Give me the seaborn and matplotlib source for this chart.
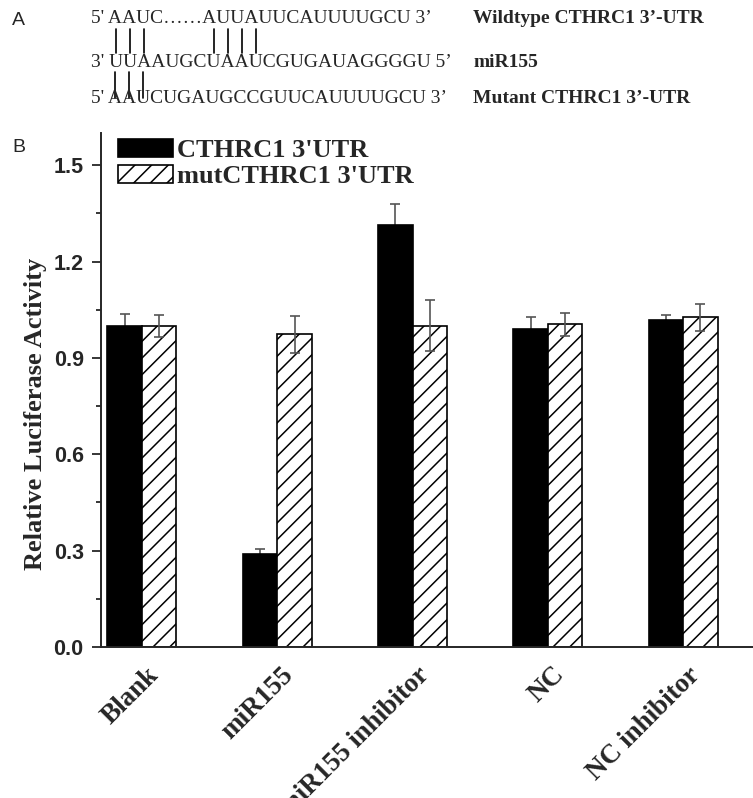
import numpy as np
import pandas as pd
import matplotlib.pyplot as plt
import matplotlib.transforms as mtransforms
import seaborn as sns
from matplotlib.lines import Line2D
from matplotlib.ticker import MultipleLocator

groups = ['Blank', 'miR155', 'miR155 inhibitor', 'NC', 'NC inhibitor']
constructs = ["CTHRC1 3'UTR", "mutCTHRC1 3'UTR"]
wt_mean = [1.00, 0.29, 1.313, 0.99, 1.019]
wt_err = [0.036, 0.015, 0.066, 0.038, 0.015]
mut_mean = [1.00, 0.973, 1.00, 1.004, 1.026]
mut_err = [0.035, 0.058, 0.08, 0.035, 0.041]

seq_lines = ["5' AAUC\u2026\u2026AUUAUUCAUUUUGCU 3\u2019",
             "3' UUAAUGCUAAUCGUGAUAGGGGU 5\u2019",
             "5' AAUCUGAUGCCGUUCAUUUUGCU 3\u2019"]
seq_names = ["Wildtype CTHRC1 3\u2019-UTR", "miR155", "Mutant CTHRC1 3\u2019-UTR"]

sns.set_style('ticks')
plt.rcParams['font.family'] = ['Liberation Serif', 'DejaVu Serif']
plt.rcParams['hatch.linewidth'] = 1.1

W, H = 753, 798
fig = plt.figure(figsize=(W / 100, H / 100), dpi=100)

# panel B
ax = fig.add_axes([101 / W, 1 - 647 / H, (W - 101) / W, (647 - 133) / H])

df = pd.DataFrame({
    'group': groups * 2,
    'construct': [constructs[0]] * 5 + [constructs[1]] * 5,
    'value': wt_mean + mut_mean,
})
sns.barplot(data=df, x='group', y='value', hue='construct', order=groups,
            hue_order=constructs, palette=['black', 'white'], width=0.51,
            edgecolor='black', linewidth=1.2, errorbar=None, ax=ax, zorder=2)
ax.get_legend().remove()

for p in ax.containers[1]:
    p.set_hatch('//')

# error bars: the solid bars hide their lower half
for cont, err, z in [(ax.containers[0], wt_err, 1.5), (ax.containers[1], mut_err, 3)]:
    xs = [p.get_x() + p.get_width() / 2 for p in cont]
    ys = [p.get_height() for p in cont]
    ax.errorbar(xs, ys, yerr=err, fmt='none', ecolor='#555555', elinewidth=1.2,
                capsize=3.8, capthick=1.2, zorder=z)

ax.set_xlim(-0.303, 4.516)
ax.set_ylim(0, 1.6)
ax.yaxis.set_minor_locator(MultipleLocator(0.15))
ax.set_yticks([0.0, 0.3, 0.6, 0.9, 1.2, 1.5])
ax.set_yticklabels(['0.0', '0.3', '0.6', '0.9', '1.2', '1.5'],
                   family='Liberation Sans', fontweight='bold', fontsize=15.5)
ax.tick_params(axis='y', which='major', direction='out', length=6.5, width=1.3, pad=6)
ax.tick_params(axis='y', which='minor', direction='out', length=3.5, width=1.3)
ax.tick_params(axis='x', length=0, pad=11)
ax.set_xticks(range(len(groups)))
ax.set_xticklabels(groups, rotation=45, ha='right', va='top', rotation_mode='anchor',
                   fontweight='bold', fontsize=19.5)
off = mtransforms.ScaledTranslation(4 / 100, 0, fig.dpi_scale_trans)
for lab in ax.get_xticklabels():
    lab.set_transform(lab.get_transform() + off)

ax.set_xlabel('')
ax.set_ylabel('Relative Luciferase Activity', fontweight='bold', fontsize=19)
ax.yaxis.set_label_coords(-0.083, 0.454)
sns.despine(ax=ax)
for s in ['left', 'bottom']:
    ax.spines[s].set_linewidth(1.4)

ax.legend(ax.containers, constructs, loc='upper left', bbox_to_anchor=(0.026, 0.988),
          frameon=False, borderpad=0, borderaxespad=0, handlelength=2.1,
          handleheight=0.68, handletextpad=0.12, labelspacing=0.1,
          prop={'family': 'Liberation Serif', 'weight': 'bold', 'size': 19})

# panel A
fig.text(12 / W, 1 - 25 / H, 'A', family='Liberation Sans', fontsize=14, va='baseline')
fig.text(12 / W, 1 - 152 / H, 'B', family='Liberation Sans', fontsize=14, va='baseline')

baselines = [23, 67, 103]
for s, name, b in zip(seq_lines, seq_names, baselines):
    fig.text(91 / W, 1 - b / H, s, fontsize=14, va='baseline')
    fig.text(473 / W, 1 - b / H, name, fontsize=14, fontweight='bold', va='baseline')

renderer = fig.canvas.get_renderer()


def char_center(line, idx):
    tmp = fig.text(0, 0, line[:idx + 1], fontsize=14)
    w_full = tmp.get_window_extent(renderer).width
    tmp.set_text(line[idx])
    w_ch = tmp.get_window_extent(renderer).width
    tmp.remove()
    return 91 + w_full - w_ch / 2


upper_idx = [3, 4, 5, 10, 11, 12, 13]
lower_idx = [3, 4, 5]
for i in upper_idx:
    xc = char_center(seq_lines[1], i)
    fig.add_artist(Line2D([xc / W, xc / W], [1 - 29 / H, 1 - 53 / H], color='black', lw=1.2))
for i in lower_idx:
    xc = char_center(seq_lines[2], i)
    fig.add_artist(Line2D([xc / W, xc / W], [1 - 72 / H, 1 - 98 / H], color='black', lw=1.2))

fig.savefig('out.png', dpi=100)
